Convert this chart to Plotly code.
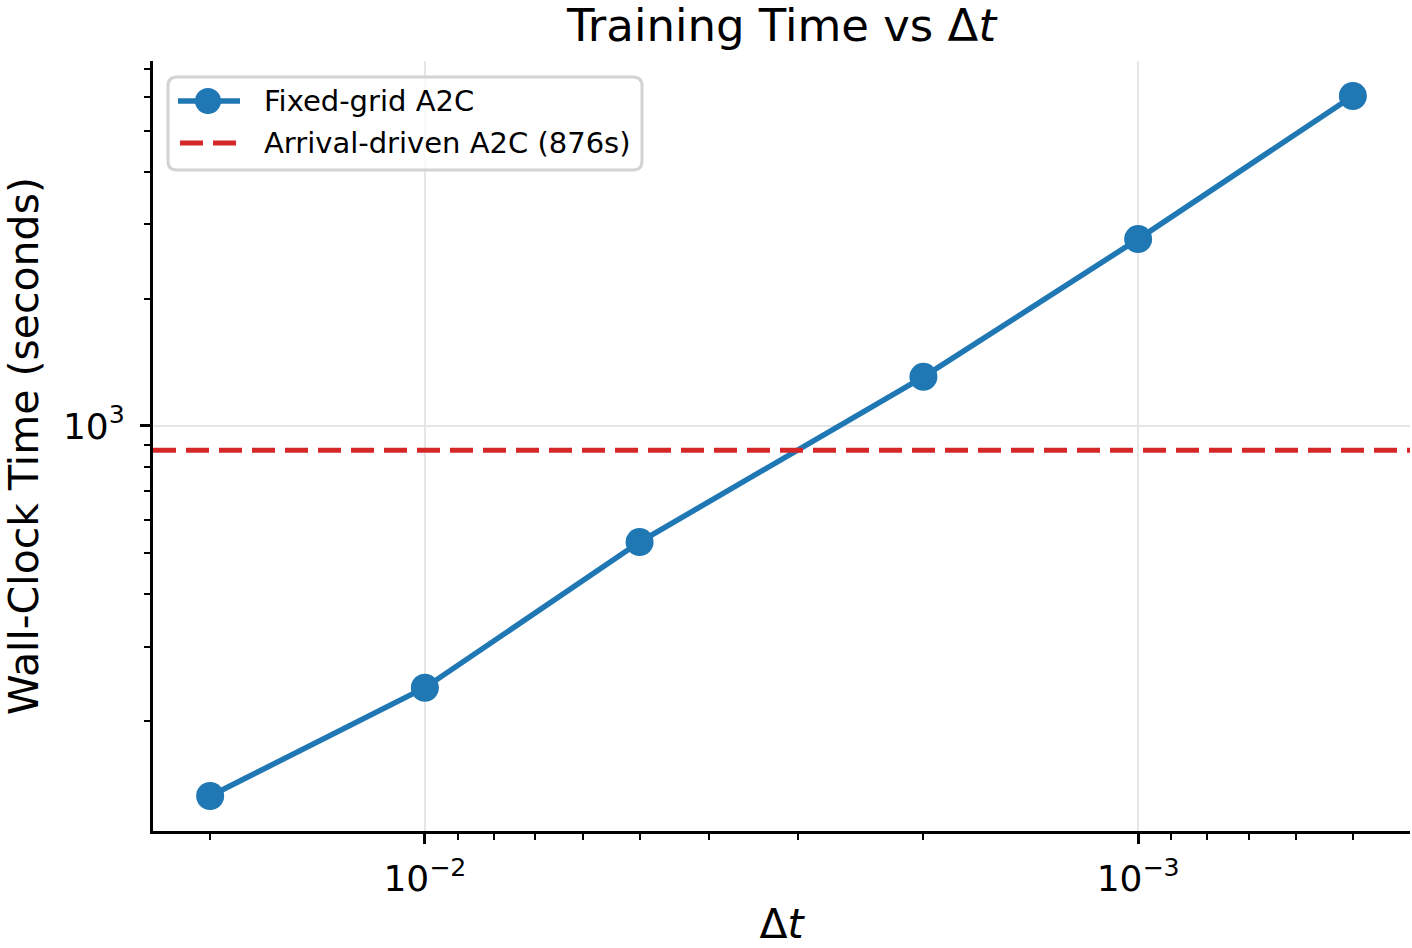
import numpy as np
import plotly.graph_objects as go

dt = [0.02, 0.01, 0.005, 0.002, 0.001, 0.0005]
wall_time = [133, 240, 531, 1307, 2770, 6043]
arrival_time = 876

series_names = ["Fixed-grid A2C", f"Arrival-driven A2C ({arrival_time}s)"]
x_major = [1e-2, 1e-3]
x_major_text = ["10<sup>\u22122</sup>", "10<sup>\u22123</sup>"]
y_major = [1e3]
y_major_text = ["10<sup>3</sup>"]
x_minor = [2e-2, 9e-3, 8e-3, 7e-3, 6e-3, 5e-3, 4e-3, 3e-3, 2e-3,
           9e-4, 8e-4, 7e-4, 6e-4, 5e-4]
y_minor = [200, 300, 400, 500, 600, 700, 800, 900,
           2000, 3000, 4000, 5000, 6000, 7000]

BLUE = "#1f77b4"
RED = "#d62728"
FONT = "DejaVu Sans"

W, H = 1412, 948
L, R, T, B = 153, 2, 61, 117
PW, PH = W - L - R, H - T - B


def px(x):
    return (x - L) / PW


def py(y):
    return (H - B - y) / PH


# axis ranges with matplotlib-like 5% margins in log space
lx = np.log10(dt)
ly = np.log10(wall_time)
mx = 0.05 * (lx.max() - lx.min())
my = 0.05 * (ly.max() - ly.min())
xr = [lx.max() + mx, lx.min() - mx]  # reversed
yr = [ly.min() - my, ly.max() + my]

fig = go.Figure()
fig.add_trace(go.Scatter(
    x=dt, y=wall_time, mode="lines+markers", name=series_names[0],
    line=dict(color=BLUE, width=5.5),
    marker=dict(color=BLUE, size=28),
    showlegend=False,
))
fig.add_trace(go.Scatter(
    x=[10 ** xr[0], 10 ** xr[1]], y=[arrival_time, arrival_time],
    mode="lines", name=series_names[1],
    line=dict(color=RED, width=5, dash="23px,10px"),
    showlegend=False,
))

# legend box (matplotlib-style, rounded corners)
bx0, bx1, by0, by1, rr = px(168), px(642), py(77), py(170), 9
rx, ry = rr / PW, rr / PH
path = (f"M {bx0+rx},{by0} L {bx1-rx},{by0} Q {bx1},{by0} {bx1},{by0-ry} "
        f"L {bx1},{by1+ry} Q {bx1},{by1} {bx1-rx},{by1} "
        f"L {bx0+rx},{by1} Q {bx0},{by1} {bx0},{by1+ry} "
        f"L {bx0},{by0-ry} Q {bx0},{by0} {bx0+rx},{by0} Z")
shapes = [
    dict(type="path", path=path, xref="paper", yref="paper",
         fillcolor="rgba(255,255,255,0.8)", line=dict(color="#d3d3d3", width=3),
         layer="above"),
    dict(type="line", xref="paper", yref="paper", x0=px(178), x1=px(240),
         y0=py(101), y1=py(101), line=dict(color=BLUE, width=5.5), layer="above"),
    dict(type="circle", xref="paper", yref="paper", x0=px(208 - 13), x1=px(208 + 13),
         y0=py(101 + 13), y1=py(101 - 13), fillcolor=BLUE, line=dict(width=0),
         layer="above"),
    dict(type="line", xref="paper", yref="paper", x0=px(180), x1=px(237),
         y0=py(143), y1=py(143), line=dict(color=RED, width=5, dash="23px,10px"),
         layer="above"),
]
annotations = [
    dict(text=series_names[0], xref="paper", yref="paper", x=px(262), y=py(101),
         xanchor="left", yanchor="middle", showarrow=False,
         font=dict(size=29, family=FONT, color="black")),
    dict(text=series_names[1], xref="paper", yref="paper", x=px(262), y=py(143),
         xanchor="left", yanchor="middle", showarrow=False,
         font=dict(size=29, family=FONT, color="black")),
]

fig.update_layout(
    width=W, height=H,
    margin=dict(l=L, r=R, t=T, b=B),
    paper_bgcolor="white", plot_bgcolor="white",
    font=dict(family=FONT, color="black", size=29),
    title=dict(text="Training Time vs \u0394<i>t</i>", x=(L + W - R) / 2 / W,
               xanchor="center", xref="container", yref="container",
               y=1 - 25 / H, yanchor="middle",
               font=dict(size=45, family=FONT)),
    showlegend=False,
    shapes=shapes,
    annotations=annotations,
)

fig.update_xaxes(
    type="log", range=xr, showline=True, linecolor="black", linewidth=3,
    mirror=False, ticks="outside", ticklen=10, tickwidth=2.5, tickcolor="black",
    tickvals=x_major, ticktext=x_major_text, tickfont=dict(size=36, family=FONT),
    ticklabelstandoff=4,
    showgrid=True, gridcolor="#e6e6e6", gridwidth=2, zeroline=False,
    minor=dict(tickvals=x_minor, ticks="outside", ticklen=6, tickwidth=2,
               tickcolor="black", showgrid=False),
    title=dict(text="\u0394<i>t</i>", font=dict(size=41, family=FONT), standoff=28),
    automargin=False,
)
fig.update_yaxes(
    type="log", range=yr, showline=True, linecolor="black", linewidth=3,
    mirror=False, ticks="outside", ticklen=10, tickwidth=2.5, tickcolor="black",
    tickvals=y_major, ticktext=y_major_text, tickfont=dict(size=36, family=FONT),
    ticklabelstandoff=8,
    showgrid=True, gridcolor="#e6e6e6", gridwidth=2, zeroline=False,
    minor=dict(tickvals=y_minor, ticks="outside", ticklen=6, tickwidth=2,
               tickcolor="black", showgrid=False),
    title=dict(text="Wall-Clock Time (seconds)", font=dict(size=41, family=FONT),
               standoff=18),
    automargin=False,
)

fig.write_html("out.html")
